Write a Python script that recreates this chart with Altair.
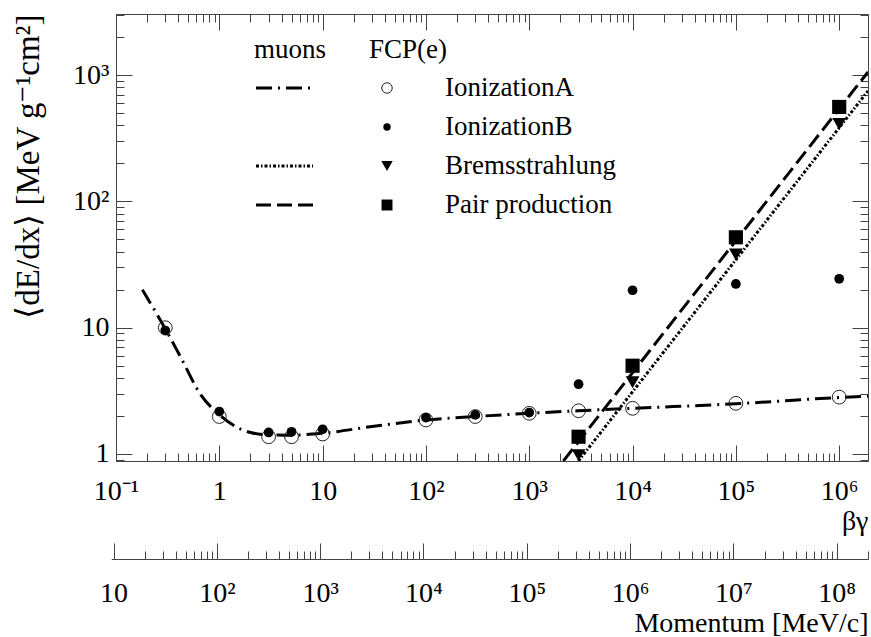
import math
import altair as alt
import pandas as pd

# ---------------- data ----------------
MU = 105.658  # muon mass [MeV/c^2], momentum = beta*gamma * MU

# muon curves (lines)
muon_ion_bg = [0.18, 0.3, 0.42, 0.66, 1, 1.5, 2, 3, 5, 10, 30, 100, 300, 1e3, 3e3, 1e4, 1e5, 1e6, 1.9e6]
muon_ion_val = [20, 9.8, 5.9, 2.95, 2.05, 1.62, 1.48, 1.42, 1.41, 1.46, 1.65, 1.86, 1.98, 2.1, 2.2, 2.3, 2.5, 2.8, 2.87]
muon_brems_bg = [2990, 1.9e6]
muon_brems_val = [0.88, 750]
muon_pair_bg = [2140, 1.9e6]
muon_pair_val = [0.88, 1060]

# FCP(e) points (markers)
ionA_bg = [0.3, 1, 3, 5, 10, 100, 300, 1e3, 3e3, 1e4, 1e5, 1e6]
ionA_val = [10.0, 1.98, 1.37, 1.37, 1.44, 1.86, 1.98, 2.1, 2.2, 2.3, 2.52, 2.82]
ionB_bg = [0.3, 1, 3, 5, 10, 100, 300, 1e3, 3e3, 1e4, 1e5, 1e6]
ionB_val = [9.5, 2.17, 1.48, 1.5, 1.57, 1.94, 2.04, 2.13, 3.57, 19.8, 22.2, 24.4]
brems_bg = [3e3, 1e4, 1e5, 1e6]
brems_val = [0.98, 3.7, 38, 410]
pair_bg = [3e3, 1e4, 1e5, 1e6]
pair_val = [1.37, 5.0, 52, 560]

# tick labels
bg_major = [0.1, 1, 10, 100, 1e3, 1e4, 1e5, 1e6]
bg_labels = ["10⁻¹", "1", "10", "10²", "10³", "10⁴", "10⁵", "10⁶"]
y_major = [1, 10, 100, 1000]
y_labels = ["1", "10", "10²", "10³"]
p_major = [10, 1e2, 1e3, 1e4, 1e5, 1e6, 1e7, 1e8]
p_labels = ["10", "10²", "10³", "10⁴", "10⁵", "10⁶", "10⁷", "10⁸"]

legend_headers = ["muons", "FCP(e)"]
legend_labels = ["IonizationA", "IonizationB", "Bremsstrahlung", "Pair production"]

# ---------------- style / layout ----------------
W, H = 752, 447
XMIN, XMAX = 0.1, 1.9e6
YMIN, YMAX = 0.88, 3050
PMIN = 9.5
FONT = "Liberation Serif, Times New Roman, Times, serif"
FS = 28        # tick labels
FS_LEG = 27    # legend
FS_T = 28      # x titles
FS_YT = 33     # y title
AXC = "#444444"
MAJ, MIN = 16, 8
P_OFF = 98  # momentum axis line below the frame

DASH_ION = [16, 6, 2, 6]
DASH_BREMS = [3, 2, 1.5, 2]
DASH_PAIR = [15, 6]

def minors(majors, lo, hi):
    out = []
    for m in majors:
        for k in range(2, 10):
            v = m * k
            if lo <= v <= hi:
                out.append(v)
    return out

bg_minor = minors(bg_major, XMIN, XMAX)
y_minor = minors([0.1] + y_major, YMIN, YMAX)
p_minor = minors([1] + p_major, PMIN, XMAX * MU)

xs = alt.Scale(type="log", domain=[XMIN, XMAX], nice=False)
ys = alt.Scale(type="log", domain=[YMIN, YMAX], nice=False)
p_start = W * math.log10(PMIN / (XMIN * MU)) / math.log10(XMAX / XMIN)
ps = alt.Scale(type="log", domain=[PMIN, XMAX * MU], range=[p_start, W], nice=False)

def idx_expr(labels, shift):
    arr = "[" + ",".join("'" + s + "'" for s in labels) + "]"
    return arr + "[round(log(datum.value)/LN10)+" + str(shift) + "]"

def tick_axis(orient, values, size, offset, domain=False):
    return alt.Axis(orient=orient, values=values, tickSize=size, offset=offset,
                    labels=False, domain=domain, domainColor=AXC, domainWidth=1,
                    ticks=True, tickColor=AXC, tickWidth=1, grid=False, title=None)

# ---------------- data frames ----------------
df_ion = pd.DataFrame({"bg": muon_ion_bg, "dedx": muon_ion_val})
df_mbrems = pd.DataFrame({"bg": muon_brems_bg, "dedx": muon_brems_val})
df_mpair = pd.DataFrame({"bg": muon_pair_bg, "dedx": muon_pair_val})
df_A = pd.DataFrame({"bg": ionA_bg, "dedx": ionA_val})
df_B = pd.DataFrame({"bg": ionB_bg, "dedx": ionB_val})
df_T = pd.DataFrame({"bg": brems_bg, "dedx": brems_val})
df_S = pd.DataFrame({"bg": pair_bg, "dedx": pair_val})
df_p = pd.DataFrame({"p": p_major})

def XY(xaxis=None, yaxis=None):
    return dict(x=alt.X("bg:Q", scale=xs, axis=xaxis), y=alt.Y("dedx:Q", scale=ys, axis=yaxis))

# ---------------- main panel layers ----------------
layers = []
# muon lines
layers.append(alt.Chart(df_ion).mark_line(color="black", strokeWidth=3, strokeDash=DASH_ION,
                                          interpolate="monotone", clip=True).encode(
    **XY(alt.Axis(orient="bottom", values=bg_major, labelExpr=idx_expr(bg_labels, 1),
                  ticks=False, tickSize=0, domain=False, grid=False, labelFont=FONT, labelFontSize=FS,
                  labelColor="black", labelPadding=30, labelBaseline="middle", labelFlush=False,
                  labelOverlap=False, title="βγ", titleFont=FONT, titleFontSize=FS_T,
                  titleFontWeight="normal", titleColor="black", titleX=W, titleY=60,
                  titleAlign="right", titleBaseline="middle"),
         alt.Axis(orient="left", values=y_major, labelExpr=idx_expr(y_labels, 0),
                  ticks=False, tickSize=0, domain=False, grid=False, labelFont=FONT, labelFontSize=FS,
                  labelColor="black", labelPadding=7, labelFlush=False, labelOverlap=False,
                  title="⟨dE/dx⟩ [MeV g⁻¹cm²]", titleFont=FONT, titleFontSize=FS_YT,
                  titleFontWeight="normal", titleColor="black", titleAngle=270, titleX=-88,
                  titleY=0, titleAlign="right", titleBaseline="middle"))))
layers.append(alt.Chart(df_mbrems).mark_line(color="black", strokeWidth=3, strokeDash=DASH_BREMS,
                                             clip=True).encode(
    **XY(tick_axis("top", bg_major, MAJ, -H), tick_axis("right", y_major, MAJ, -W))))
layers.append(alt.Chart(df_mpair).mark_line(color="black", strokeWidth=3, strokeDash=DASH_PAIR,
                                            clip=True).encode(
    **XY(tick_axis("top", bg_minor, MIN, -H), tick_axis("right", y_minor, MIN, -W))))
# FCP markers
layers.append(alt.Chart(df_A).mark_point(shape="circle", filled=False, color="#222222", size=190,
                                         strokeWidth=1, opacity=1).encode(
    **XY(tick_axis("bottom", bg_major, MAJ, -H), tick_axis("left", y_major, MAJ, -W))))
layers.append(alt.Chart(df_B).mark_point(shape="circle", filled=True, color="black", size=95,
                                         opacity=1).encode(
    **XY(tick_axis("bottom", bg_minor, MIN, -H), tick_axis("left", y_minor, MIN, -W))))
layers.append(alt.Chart(df_T).mark_point(shape="triangle-down", filled=True, color="black", size=190,
                                         opacity=1).encode(**XY()))
layers.append(alt.Chart(df_S).mark_point(shape="square", filled=True, color="black", size=200,
                                         opacity=1).encode(**XY()))

# ---------------- hand-made legend (pixel positions in the plot area) ----------------
LG_HEAD_Y = 36
LG_ROW_Y = [74, 113, 152, 191]
LG_HEAD_X = [138, 253]
LG_LINE_X = (140, 197)
LG_SYM_X = 271
LG_TEXT_X = 329
lg_dash = [DASH_ION, None, DASH_BREMS, DASH_PAIR]
lg_width = [3, 0, 3, 3]
lg_shape = ["circle", "circle", "triangle-down", "square"]
lg_filled = [False, True, True, True]
lg_size = [110, 55, 130, 120]

for hx, txt in zip(LG_HEAD_X, legend_headers):
    layers.append(alt.Chart(pd.DataFrame({"t": [txt]})).mark_text(
        font=FONT, fontSize=FS_LEG, align="left", baseline="middle", color="black").encode(
        text="t:N", x=alt.value(hx), y=alt.value(LG_HEAD_Y)))
for i, txt in enumerate(legend_labels):
    ydesc = LG_ROW_Y[i]
    d1 = pd.DataFrame({"t": [txt]})
    layers.append(alt.Chart(d1).mark_text(font=FONT, fontSize=FS_LEG, align="left", baseline="middle",
                                          color="black").encode(
        text="t:N", x=alt.value(LG_TEXT_X), y=alt.value(ydesc)))
    layers.append(alt.Chart(d1).mark_point(shape=lg_shape[i], filled=lg_filled[i],
                                           color="#222222" if not lg_filled[i] else "black",
                                           size=lg_size[i], strokeWidth=1, opacity=1).encode(
        x=alt.value(LG_SYM_X), y=alt.value(ydesc)))
    if lg_dash[i] is not None:
        layers.append(alt.Chart(d1).mark_rule(color="black", strokeWidth=lg_width[i],
                                              strokeDash=lg_dash[i]).encode(
            x=alt.value(LG_LINE_X[0]), x2=alt.value(LG_LINE_X[1]), y=alt.value(ydesc)))

main = alt.layer(*layers).resolve_axis(x="independent", y="independent")

# ---------------- momentum axis ----------------
mom = alt.layer(
    alt.Chart(df_p).mark_point(opacity=0).encode(
        x=alt.X("p:Q", scale=ps, axis=tick_axis("top", p_major, MAJ, -(H + P_OFF), domain=True))),
    alt.Chart(df_p).mark_point(opacity=0).encode(
        x=alt.X("p:Q", scale=ps, axis=tick_axis("top", p_minor, MIN, -(H + P_OFF)))),
    alt.Chart(df_p).mark_point(opacity=0).encode(
        x=alt.X("p:Q", scale=ps, axis=alt.Axis(
            orient="bottom", offset=P_OFF, values=p_major, labelExpr=idx_expr(p_labels, -1),
            ticks=False, tickSize=0, domain=False, grid=False, labelFont=FONT, labelFontSize=FS,
            labelColor="black", labelPadding=34, labelBaseline="middle", labelFlush=False,
            labelOverlap=False, title="Momentum [MeV/c]", titleFont=FONT, titleFontSize=FS_T,
            titleFontWeight="normal", titleColor="black", titleX=W, titleY=64,
            titleAlign="right", titleBaseline="middle"))),
).resolve_axis(x="independent")

chart = alt.layer(main, mom).resolve_scale(x="independent").properties(
    width=W, height=H,
    autosize=alt.AutoSizeParams(type="none"),
    padding={"left": 116, "top": 14, "right": 3, "bottom": 176},
    background="white",
).configure_view(stroke=AXC, strokeWidth=1)

chart.save("out.html", embed_options={"renderer": "svg", "actions": False})
